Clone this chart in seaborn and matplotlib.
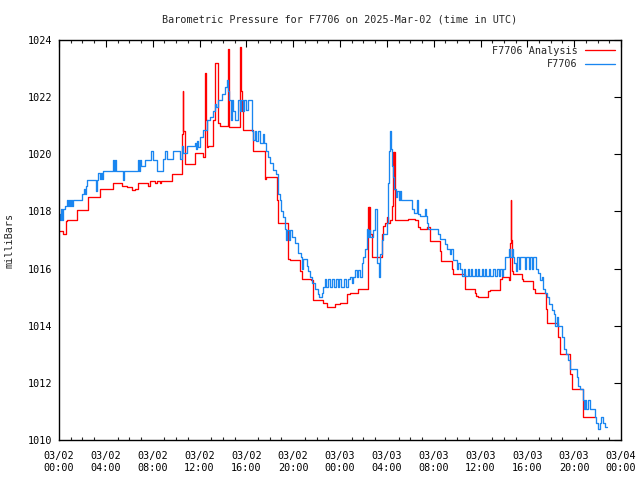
import matplotlib
matplotlib.use("Agg")
import matplotlib.pyplot as plt
import matplotlib.dates as mdates
from matplotlib.lines import Line2D
import pandas as pd
import seaborn as sns

# ---- data (hours after 2025-03-02 00:00 UTC, pressure in mbar) ----
obs_hours = [0.00, 0.09, 0.17, 0.26, 0.34, 0.51, 0.68, 0.77, 0.85, 0.94, 1.03, 1.11, 1.20, 1.96, 2.14,
             2.22, 2.31, 2.39, 3.16, 3.25, 3.33, 3.50, 3.59, 3.67, 3.76, 4.61, 4.70, 4.78, 4.87, 5.47,
             5.56, 6.75, 6.83, 6.92, 7.00, 7.35, 7.86, 8.03, 8.37, 8.88, 9.05, 9.20, 9.70, 10.35, 10.50,
             10.62, 10.95, 11.60, 11.70, 11.80, 11.90, 12.04, 12.30, 12.64, 12.90, 13.15, 13.30, 13.45,
             13.58, 13.90, 14.18, 14.35, 14.45, 14.55, 14.65, 14.75, 14.85, 15.00, 15.29, 15.45, 15.55,
             15.70, 15.80, 16.00, 16.10, 16.48, 16.60, 16.70, 16.85, 17.00, 17.15, 17.40, 17.55, 17.65,
             17.85, 18.05, 18.30, 18.55, 18.70, 18.85, 19.00, 19.15, 19.30, 19.40, 19.50, 19.65, 19.75,
             19.90, 20.15, 20.45, 20.65, 20.75, 20.85, 21.20, 21.30, 21.45, 21.65, 21.85, 22.10, 22.20,
             22.45, 22.55, 22.70, 22.80, 23.00, 23.15, 23.35, 23.50, 23.65, 23.80, 23.95, 24.10, 24.30,
             24.50, 24.65, 24.85, 25.05, 25.15, 25.30, 25.45, 25.55, 25.71, 25.85, 25.96, 26.15, 26.30,
             26.39, 26.50, 26.60, 26.82, 26.99, 27.12, 27.20, 27.30, 27.41, 27.59, 27.67, 28.00, 28.10,
             28.18, 28.27, 28.35, 28.45, 28.52, 28.60, 28.75, 28.85, 29.00, 29.10, 29.20, 30.15, 30.30,
             30.58, 30.66, 30.83, 31.26, 31.35, 31.45, 31.51, 32.37, 32.54, 32.97, 33.14, 33.40, 33.50,
             33.65, 33.99, 34.10, 34.25, 34.40, 34.55, 34.70, 34.90, 35.00, 35.20, 35.30, 35.50, 35.60,
             35.80, 35.90, 36.10, 36.20, 36.40, 36.50, 36.75, 36.85, 37.05, 37.20, 37.40, 37.55, 37.70,
             37.80, 37.95, 38.10, 38.45, 38.55, 38.65, 38.80, 38.90, 39.00, 39.10, 39.30, 39.40, 39.80,
             39.90, 40.15, 40.25, 40.40, 40.50, 40.70, 40.95, 41.10, 41.25, 41.35, 41.55, 41.70, 41.85,
             42.10, 42.25, 42.40, 42.55, 42.65, 42.96, 43.10, 43.30, 43.50, 43.65, 44.24, 44.35, 44.50,
             44.75, 44.85, 44.95, 45.05, 45.15, 45.35, 45.77, 45.90, 46.05, 46.20, 46.30, 46.45, 46.60,
             46.80]
obs_mbar = [1017.9, 1017.7, 1018.1, 1017.7, 1018.1, 1018.2, 1018.4, 1018.2, 1018.4, 1018.2, 1018.4,
            1018.2, 1018.4, 1018.6, 1018.8, 1018.6, 1018.9, 1019.1, 1018.7, 1019.1, 1019.35, 1019.15,
            1019.35, 1019.15, 1019.4, 1019.8, 1019.4, 1019.8, 1019.4, 1019.1, 1019.4, 1019.8, 1019.4,
            1019.8, 1019.6, 1019.8, 1020.1, 1019.8, 1019.4, 1019.85, 1020.1, 1019.85, 1020.1, 1019.85,
            1020.3, 1020.05, 1020.3, 1020.4, 1020.2, 1020.45, 1020.25, 1020.6, 1020.85, 1021.2, 1021.3,
            1021.5, 1021.75, 1021.65, 1021.9, 1022.1, 1022.35, 1022.6, 1022.2, 1021.9, 1021.2, 1021.9,
            1021.5, 1021.2, 1021.9, 1021.5, 1021.9, 1021.5, 1021.9, 1021.55, 1021.9, 1020.8, 1020.5,
            1020.8, 1020.45, 1020.8, 1020.4, 1020.7, 1020.4, 1020.1, 1019.9, 1019.7, 1019.45, 1019.3,
            1018.6, 1018.4, 1018.0, 1017.8, 1017.4, 1017.0, 1017.35, 1017.0, 1017.35, 1017.1, 1016.9,
            1016.55, 1016.4, 1016.0, 1016.35, 1016.1, 1015.9, 1015.7, 1015.5, 1015.3, 1015.1, 1015.0,
            1015.15, 1015.35, 1015.65, 1015.35, 1015.65, 1015.35, 1015.65, 1015.35, 1015.65, 1015.35,
            1015.65, 1015.35, 1015.65, 1015.35, 1015.65, 1015.7, 1015.5, 1015.7, 1015.95, 1015.7,
            1015.95, 1015.7, 1016.2, 1016.4, 1016.7, 1017.4, 1017.1, 1017.35, 1017.1, 1017.35, 1018.1,
            1017.0, 1016.2, 1015.7, 1016.5, 1017.0, 1017.2, 1017.6, 1019.0, 1020.1, 1020.8, 1020.2,
            1019.6, 1019.2, 1018.8, 1018.5, 1018.7, 1018.4, 1018.7, 1018.4, 1018.1, 1017.95, 1018.4,
            1017.9, 1017.85, 1018.1, 1017.85, 1017.6, 1017.4, 1017.2, 1017.05, 1016.85, 1016.7, 1016.5,
            1016.7, 1016.3, 1016.0, 1016.2, 1016.0, 1015.75, 1016.0, 1015.75, 1016.0, 1015.75, 1016.0,
            1015.75, 1016.0, 1015.75, 1016.0, 1015.75, 1016.0, 1015.75, 1016.0, 1015.75, 1016.0,
            1015.75, 1016.0, 1015.75, 1016.0, 1015.75, 1016.0, 1015.75, 1016.0, 1016.4, 1016.7,
            1016.4, 1016.7, 1016.4, 1016.2, 1015.9, 1016.4, 1016.0, 1016.4, 1016.0, 1016.4, 1016.0,
            1016.4, 1016.0, 1016.4, 1016.0, 1015.85, 1015.6, 1015.7, 1015.3, 1015.15, 1015.0, 1014.75,
            1014.55, 1014.4, 1014.0, 1014.3, 1014.0, 1013.6, 1013.2, 1013.0, 1012.8, 1012.5, 1012.2,
            1011.9, 1011.8, 1011.4, 1011.1, 1011.4, 1011.1, 1011.4, 1011.1, 1010.8, 1010.6, 1010.4,
            1010.6, 1010.8, 1010.6, 1010.45, 1010.45]

ana_hours = [0.00, 0.30, 0.60, 0.70, 1.55, 2.48, 3.50, 4.60, 5.40, 5.80, 6.20, 6.50, 6.75, 7.60, 7.80,
             8.20, 8.35, 8.60, 8.75, 9.65, 10.50, 10.57, 10.62, 10.76, 11.60, 12.30, 12.47, 12.55,
             12.64, 12.73, 13.15, 13.32, 13.58, 13.75, 14.43, 14.55, 15.46, 15.55, 15.65, 15.71, 16.60,
             17.60, 17.72, 18.60, 18.72, 19.56, 19.73, 20.60, 20.75, 21.55, 21.70, 22.55, 22.90, 23.57,
             24.00, 24.60, 24.85, 25.50, 26.39, 26.45, 26.50, 26.56, 26.73, 27.62, 27.67, 27.84, 28.00,
             28.10, 28.27, 28.44, 28.52, 28.58, 28.64, 28.70, 29.80, 30.40, 30.66, 30.83, 31.43, 31.69,
             32.54, 32.62, 33.56, 33.65, 34.67, 35.53, 35.65, 35.78, 36.64, 36.80, 37.66, 37.83, 38.40,
             38.52, 38.58, 38.64, 38.69, 38.77, 39.54, 39.63, 40.48, 40.65, 41.60, 41.68, 42.62, 42.79,
             43.64, 43.80, 44.75, 45.77]
ana_mbar = [1017.3, 1017.2, 1017.65, 1017.7, 1018.05, 1018.5, 1018.8, 1019.0, 1018.9, 1018.85, 1018.75,
            1018.8, 1019.0, 1018.9, 1019.05, 1019.0, 1019.05, 1019.0, 1019.05, 1019.3, 1020.7, 1022.2,
            1020.8, 1019.65, 1020.05, 1019.9, 1022.85, 1021.2, 1020.25, 1020.3, 1021.2, 1023.2, 1021.1,
            1021.0, 1023.7, 1020.95, 1023.75, 1022.2, 1021.5, 1020.85, 1020.1, 1019.15, 1019.2,
            1018.4, 1017.6, 1016.35, 1016.3, 1015.9, 1015.65, 1015.6, 1014.9, 1014.8, 1014.65, 1014.75,
            1014.8, 1015.1, 1015.15, 1015.3, 1018.15, 1017.3, 1018.15, 1017.2, 1016.4, 1017.2, 1017.5,
            1017.6, 1017.8, 1017.6, 1017.7, 1018.2, 1020.07, 1018.8, 1020.07, 1017.7, 1017.75, 1017.7,
            1017.45, 1017.4, 1017.45, 1016.95, 1016.6, 1016.25, 1016.0, 1015.8, 1015.3, 1015.15,
            1015.05, 1015.0, 1015.2, 1015.25, 1015.65, 1015.7, 1015.6, 1016.9, 1018.4, 1017.0, 1015.9,
            1015.8, 1015.65, 1015.55, 1015.3, 1015.15, 1014.6, 1014.1, 1013.6, 1013.0, 1012.3, 1011.8,
            1010.8, 1010.8]

series_names = ["F7706 Analysis", "F7706"]
series_colors = ["#ff0000", "#1a86f0"]
title_text = "Barometric Pressure for F7706 on 2025-Mar-02 (time in UTC)"
y_label = "milliBars"
y_ticks = [1010, 1012, 1014, 1016, 1018, 1020, 1022, 1024]

base = pd.Timestamp("2025-03-02 00:00")
df = pd.concat([
    pd.DataFrame({"time": base + pd.to_timedelta(ana_hours, unit="h"),
                  "mbar": ana_mbar, "series": series_names[0]}),
    pd.DataFrame({"time": base + pd.to_timedelta(obs_hours, unit="h"),
                  "mbar": obs_mbar, "series": series_names[1]}),
], ignore_index=True)

sns.set_style("white")
mono = "DejaVu Sans Mono"
plt.rcParams["font.family"] = [mono]
fs = 7.3
lw = 0.95

fig = plt.figure(figsize=(6.4, 4.8), dpi=100)
ax = fig.add_axes([59 / 640, 1 - 440 / 480, 562 / 640, 400 / 480])

sns.lineplot(data=df, x="time", y="mbar", hue="series", hue_order=series_names,
             palette=dict(zip(series_names, series_colors)), estimator=None, sort=False,
             drawstyle="steps-post", linewidth=lw, ax=ax, legend=False)

ax.set_xlim(base, base + pd.Timedelta(hours=48))
ax.set_ylim(1010, 1024)
ax.set_yticks(y_ticks)
ax.xaxis.set_major_locator(mdates.HourLocator(byhour=[0, 4, 8, 12, 16, 20]))
ax.xaxis.set_minor_locator(mdates.HourLocator())
ax.xaxis.set_major_formatter(mdates.DateFormatter("%m/%d\n%H:%M"))
ax.set_xlabel("")
ax.set_ylabel("")

for s in ax.spines.values():
    s.set_visible(True)
    s.set_linewidth(1.0)
    s.set_color("black")

ax.tick_params(axis="both", which="major", direction="in", length=5, width=0.8,
               top=True, right=True, labelsize=fs, colors="black")
ax.tick_params(axis="x", which="major", pad=8)
ax.tick_params(axis="y", which="major", pad=5)
ax.tick_params(axis="x", which="minor", direction="in", length=2.5, width=0.8, top=True, bottom=True)
for lab in ax.get_xticklabels() + ax.get_yticklabels():
    lab.set_fontfamily(mono)
    lab.set_linespacing(1.25)

fig.text(340 / 640, 1 - 20 / 480, title_text, ha="center", va="center", fontsize=fs, family=mono)
fig.text(10 / 640, 0.5, y_label, rotation=90, ha="center", va="center", fontsize=fs, family=mono)

handles = [Line2D([], [], color=c, lw=lw) for c in series_colors]
ax.legend(handles, series_names, loc="upper right", frameon=False, markerfirst=False,
          handlelength=3.0, handletextpad=0.7, borderaxespad=0.15, labelspacing=0.35,
          prop={"family": mono, "size": fs})

fig.savefig("out.png", dpi=100)
